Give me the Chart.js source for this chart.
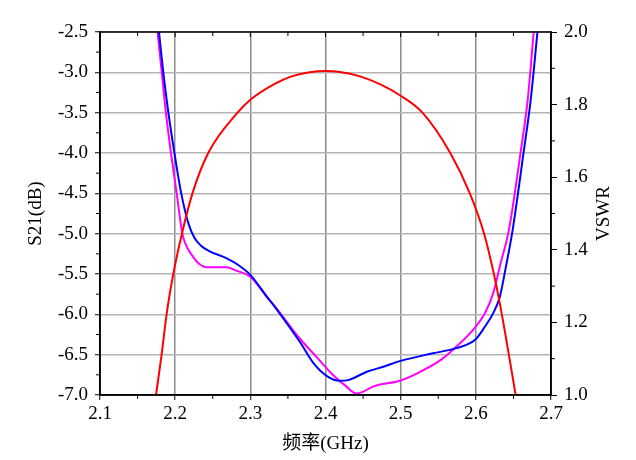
<!DOCTYPE html>
<html>
<head>
<meta charset="utf-8">
<script src="https://cdn.jsdelivr.net/npm/chart.js@4.4.0/dist/chart.umd.min.js"></script>
<style>
    body { margin: 0; background: #fff; }
    #wrap { width: 636px; height: 460px; }
</style>
</head>
<body>
<div id="wrap"><canvas id="graficoS21"></canvas></div>
<script>
// S21 (dB), eixo esquerdo
const s21Freq = [2.1745, 2.182, 2.1886, 2.1975, 2.209, 2.223, 2.244, 2.283, 2.300, 2.333, 2.355, 2.377,
    2.400, 2.419, 2.446, 2.473, 2.500, 2.529, 2.566, 2.592, 2.611, 2.624, 2.634, 2.653];
const s21Val = [-7.00, -6.50, -6.00, -5.50, -5.00, -4.50, -4.00, -3.50, -3.34, -3.14, -3.05, -3.003,
    -2.985, -2.995, -3.05, -3.15, -3.29, -3.50, -4.00, -4.50, -5.00, -5.50, -5.97, -7.00];

// VSWR azul, eixo direito
const vswrAzulFreq = [2.1785, 2.184, 2.191, 2.199, 2.208, 2.218, 2.226, 2.234, 2.244, 2.268, 2.284, 2.300,
    2.322, 2.335, 2.366, 2.384, 2.402, 2.419, 2.430, 2.455, 2.477, 2.500, 2.543, 2.574, 2.599, 2.612,
    2.623, 2.632, 2.640, 2.649, 2.664, 2.673, 2.682];
const vswrAzulVal = [2.000, 1.892, 1.777, 1.667, 1.556, 1.470, 1.432, 1.412, 1.398, 1.377, 1.358, 1.331,
    1.271, 1.236, 1.146, 1.088, 1.052, 1.039, 1.041, 1.064, 1.078, 1.094, 1.115, 1.129, 1.152, 1.188,
    1.225, 1.271, 1.353, 1.455, 1.675, 1.813, 2.000];

// VSWR magenta, eixo direito
const vswrMagFreq = [2.1766, 2.182, 2.1877, 2.1944, 2.202, 2.2094, 2.215, 2.222, 2.231, 2.242, 2.268, 2.282,
    2.300, 2.322, 2.335, 2.366, 2.388, 2.410, 2.428, 2.441, 2.450, 2.463, 2.500, 2.526, 2.553, 2.574,
    2.596, 2.612, 2.623, 2.633, 2.644, 2.660, 2.669, 2.677];
const vswrMagVal = [2.000, 1.892, 1.777, 1.667, 1.556, 1.446, 1.410, 1.386, 1.363, 1.352, 1.352, 1.342,
    1.326, 1.270, 1.238, 1.155, 1.105, 1.055, 1.023, 1.004, 1.009, 1.023, 1.040, 1.064, 1.096, 1.133,
    1.179, 1.225, 1.280, 1.363, 1.455, 1.675, 1.813, 2.000];

// eixos
const xRange = [2.1, 2.7];
const xStep = 0.1;
const s21Range = [-7.0, -2.5];
const s21Step = 0.5;
const vswrRange = [1.0, 2.0];
const vswrStep = 0.2;
const xMinorTicks = [2.15, 2.25, 2.35, 2.45, 2.55, 2.65];
const s21MinorTicks = [-2.75, -3.25, -3.75, -4.25, -4.75, -5.25, -5.75, -6.25, -6.75];
const vswrMinorTicks = [1.1, 1.3, 1.5, 1.7, 1.9];

const pontos = (xs, ys) => xs.map((x, i) => ({ x: x, y: ys[i] }));

const fonte = "'Liberation Serif', 'Times New Roman', 'Noto Sans CJK SC', serif";
Chart.defaults.font.family = fonte;
Chart.defaults.font.size = 19;
Chart.defaults.color = '#000';

// moldura, ticks menores e titulo VSWR
const moldura = {
    id: 'moldura',
    afterDraw(chart) {
        const { ctx, chartArea: a, scales } = chart;
        const risco = (x1, y1, x2, y2) => {
            ctx.beginPath();
            ctx.moveTo(x1, y1);
            ctx.lineTo(x2, y2);
            ctx.stroke();
        };
        ctx.save();
        ctx.strokeStyle = '#000';
        ctx.lineWidth = 1;

        xMinorTicks.forEach(v => {
            const px = scales.x.getPixelForValue(v);
            risco(px, a.bottom, px, a.bottom + 4);
            risco(px, a.top, px, a.top + 4);
        });
        scales.x.ticks.forEach(t => {
            const px = scales.x.getPixelForValue(t.value);
            risco(px, a.top, px, a.top + 5);
        });
        s21MinorTicks.forEach(v => {
            const py = scales.y.getPixelForValue(v);
            risco(a.left - 4, py, a.left, py);
        });
        vswrMinorTicks.forEach(v => {
            const py = scales.y1.getPixelForValue(v);
            risco(a.right, py, a.right + 4, py);
        });

        ctx.lineWidth = 1.5;
        ctx.strokeRect(a.left, a.top, a.right - a.left, a.bottom - a.top);

        ctx.fillStyle = '#000';
        ctx.font = '19px ' + fonte;
        ctx.textAlign = 'center';
        ctx.textBaseline = 'middle';
        ctx.translate(a.right + 53, (a.top + a.bottom) / 2);
        ctx.rotate(-Math.PI / 2);
        ctx.fillText('VSWR', 0, 0);
        ctx.restore();
    }
};

const ctx = document.getElementById('graficoS21');

new Chart(ctx, {
    type: 'line',
    data: {
        datasets: [
            {
                label: 'S21',
                data: pontos(s21Freq, s21Val),
                yAxisID: 'y',
                borderColor: '#ff0000',
                borderWidth: 2,
                pointRadius: 0,
                cubicInterpolationMode: 'monotone'
            },
            {
                label: 'VSWR 1',
                data: pontos(vswrAzulFreq, vswrAzulVal),
                yAxisID: 'y1',
                borderColor: '#0000ff',
                borderWidth: 2,
                pointRadius: 0,
                cubicInterpolationMode: 'monotone'
            },
            {
                label: 'VSWR 2',
                data: pontos(vswrMagFreq, vswrMagVal),
                yAxisID: 'y1',
                borderColor: '#ff00ff',
                borderWidth: 2,
                pointRadius: 0,
                cubicInterpolationMode: 'monotone'
            }
        ]
    },

    options: {
        responsive: true,
        maintainAspectRatio: false,
        animation: false,
        layout: { padding: { top: 32, left: 0, right: 0, bottom: 0 } },

        plugins: {
            legend: { display: false },
            tooltip: { enabled: false }
        },

        scales: {
            x: {
                type: 'linear',
                min: xRange[0],
                max: xRange[1],
                afterFit: (s) => { s.height = 65; },
                ticks: {
                    stepSize: xStep,
                    padding: 3,
                    maxRotation: 0,
                    callback: (v) => v.toFixed(1)
                },
                grid: { color: '#8c8c8c', lineWidth: 1.5, tickColor: '#000', tickLength: 5, tickWidth: 1 },
                border: { display: true, color: '#000', width: 1.5 },
                title: {
                    display: true,
                    text: '频率(GHz)',
                    padding: { top: 0, bottom: 5 },
                    font: { size: 19, family: fonte }
                }
            },
            y: {
                position: 'left',
                min: s21Range[0],
                max: s21Range[1],
                afterFit: (s) => { s.width = 100; },
                ticks: {
                    stepSize: s21Step,
                    padding: 7,
                    callback: (v) => v.toFixed(1)
                },
                grid: { color: '#b4b4b4', lineWidth: 1.5, tickColor: '#000', tickLength: 5, tickWidth: 1 },
                border: { display: true, color: '#000', width: 1.5 },
                title: {
                    display: true,
                    text: 'S21(dB)',
                    padding: { top: 25, bottom: 0 },
                    font: { size: 19, family: fonte }
                }
            },
            y1: {
                position: 'right',
                min: vswrRange[0],
                max: vswrRange[1],
                afterFit: (s) => { s.width = 85; },
                ticks: {
                    stepSize: vswrStep,
                    padding: 7,
                    callback: (v) => v.toFixed(1)
                },
                grid: { drawOnChartArea: false, tickColor: '#000', tickLength: 6, tickWidth: 1 },
                border: { display: true, color: '#000', width: 1.5 }
            }
        }
    },
    plugins: [moldura]
});
</script>
</body>
</html>
